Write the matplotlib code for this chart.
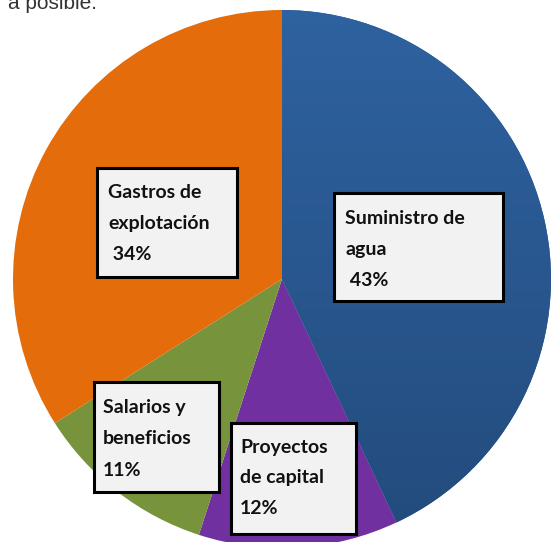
import numpy as np
import matplotlib.pyplot as plt
from matplotlib.patches import Rectangle
from matplotlib.colors import LinearSegmentedColormap

# data
labels = ['Suministro de\nagua\n 43%', 'Proyectos\nde capital\n12%',
          'Salarios y\nbeneficios\n11%', 'Gastros de\nexplotación\n 34%']
shares = [43, 12, 11, 34]
colors = ['#2c5d98', '#7030a0', '#77933c', '#e46c0a']

W, H = 551, 542
fig = plt.figure(figsize=(W / 100, H / 100), dpi=100)
ax = fig.add_axes([0, 0, 1, 1])

cx, cy, r = 282, H - 279, 269
wedges, _ = ax.pie(shares, colors=colors, startangle=90, counterclock=False,
                   center=(cx, cy), radius=r,
                   wedgeprops=dict(linewidth=0))

# slight vertical gradient on the blue slice
grad = np.linspace(0, 1, 256).reshape(-1, 1)
cm = LinearSegmentedColormap.from_list('b', ['#2e62a0', '#234b7c'])
im = ax.imshow(grad, cmap=cm, extent=(cx, cx + r, cy - r, cy + r),
               origin='upper', aspect='auto', zorder=1.5)
im.set_clip_path(wedges[0])
ax.set_xlim(0, W)
ax.set_ylim(0, H)
ax.set_aspect('equal')
ax.axis('off')

# label boxes (pixel coords, top-left origin): x0, y0, x1, y1, text x, first line y
boxes = [
    (334, 193, 503, 301, 345, 218),
    (231, 423, 356, 534, 240, 447),
    (94, 382, 219, 492, 103, 408),
    (97, 168, 237, 277, 108, 193),
]
for lab, (x0, y0, x1, y1, tx, ty) in zip(labels, boxes):
    ax.add_patch(Rectangle((x0, H - y1), x1 - x0, y1 - y0, facecolor='#f2f2f2',
                           edgecolor='black', linewidth=2.2, zorder=3))
    for i, line in enumerate(lab.split('\n')):
        ax.text(tx, H - (ty + i * 31), line, fontsize=14, family='Lato',
                fontweight='bold', color='#111111', ha='left', va='center',
                zorder=4)

fig.text(97 / W, 1 - 9 / H, 'a posible.', fontsize=15, family='Liberation Sans',
         color='#333333', ha='right', va='baseline')

fig.savefig('out.png', dpi=100)
